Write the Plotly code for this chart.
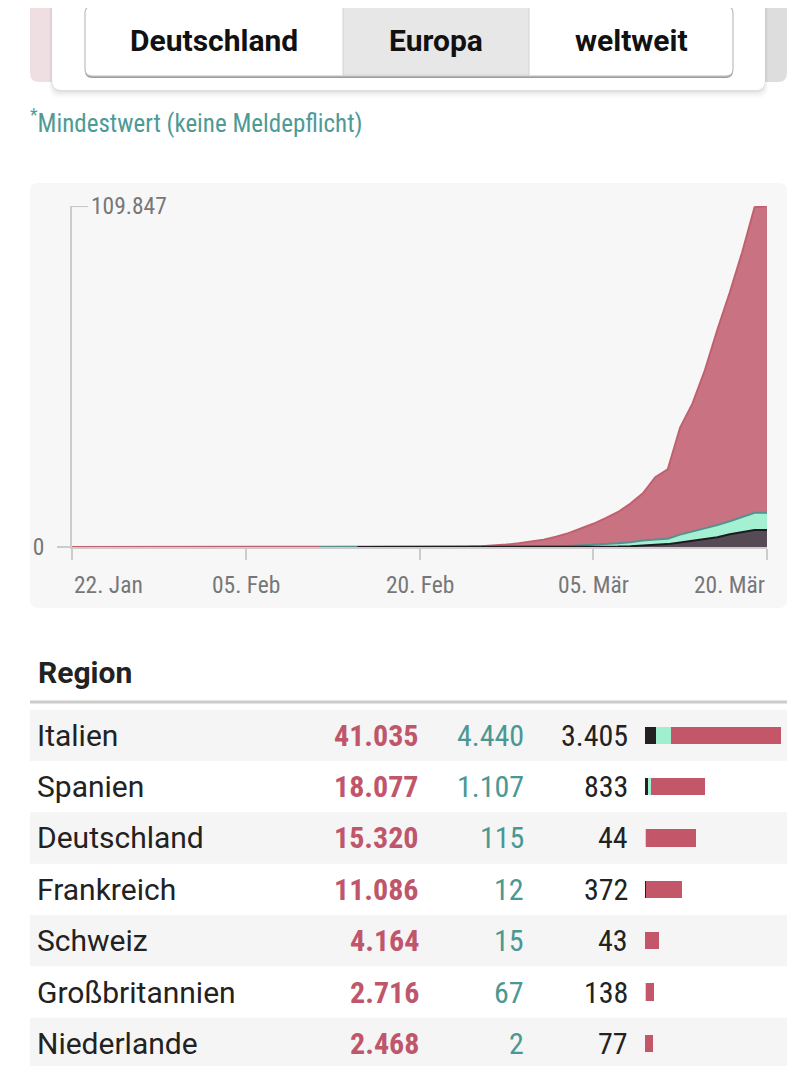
import plotly.graph_objects as go

# page body keeps its default 8px margin; the photo squeezes the page a little vertically
W, H = 784, 1072
OX, OY = 8, 8
S = 0.987

# ---- area chart data (Europa, cumulative, one value per day from 22. Jan) ----
days = list(range(57))
confirmed = [0, 0, 3, 3, 4, 5, 8, 10, 12, 14, 16, 20, 22, 25, 28, 30, 32, 35, 38, 40,
             42, 45, 46, 46, 46, 47, 47, 47, 48, 50, 60, 80, 160,
             300, 500, 800, 1200, 1700, 2400, 3300, 4500, 6000, 7500, 9300, 11300,
             14000, 17300, 22500, 25000, 38500, 46300, 57000, 70000, 82000, 95000,
             109500, 109847]
recovered = [None] * 20 + [2, 4, 4, 8, 10, 12, 14, 14, 16, 16, 18, 18, 20, 25, 45,
                           48, 50, 85, 150, 165, 280, 420, 530, 700, 1000, 1250, 1600,
                           1700, 1750, 2500, 3000, 3200, 3900, 4200, 5000, 5550, 5550]
deaths = [None] * 23 + [1, 1, 1, 1, 1, 1, 1, 2, 3, 3, 7, 11, 12, 17, 21, 29, 34, 52,
                        79, 107, 148, 197, 300, 500, 700, 950, 1500, 2000, 2700, 3200,
                        4100, 4800, 5500, 5500]
y_max = 109847
tick_days = [0, 14, 28, 42, 56]
tick_labels = ["22. Jan", "05. Feb", "20. Feb", "05. Mär", "20. Mär"]

# ---- table data ----
countries = ["Italien", "Spanien", "Deutschland", "Frankreich", "Schweiz",
             "Großbritannien", "Niederlande"]
t_confirmed = [41035, 18077, 15320, 11086, 4164, 2716, 2468]
t_recovered = [4440, 1107, 115, 12, 15, 67, 2]
t_deaths = [3405, 833, 44, 372, 43, 138, 77]

buttons = ["Deutschland", "Europa", "weltweit"]

RED, RED_LINE = "#c97382", "#c0606f"
MINT, MINT_LINE = "#a3f0d2", "#57908f"
DARK, DARK_LINE = "#564b55", "#1d1b20"
BAR_RED, BAR_MINT, BAR_DARK = "#c45669", "#a0f0cf", "#231f22"
TXT_RED, TXT_TEAL = "#c0566b", "#4b9793"
FONT = "Roboto, sans-serif"
COND = "Roboto Condensed, Liberation Sans Narrow, DejaVu Sans Condensed, Roboto, sans-serif"


def X(x):
    return (x - OX) / W


def Y(y):
    return 1 - (y / S - OY) / H


def rrect(x0, y0, x1, y1, r):
    return (f"M {X(x0 + r)},{Y(y0)} L {X(x1 - r)},{Y(y0)} Q {X(x1)},{Y(y0)} {X(x1)},{Y(y0 + r)} "
            f"L {X(x1)},{Y(y1 - r)} Q {X(x1)},{Y(y1)} {X(x1 - r)},{Y(y1)} "
            f"L {X(x0 + r)},{Y(y1)} Q {X(x0)},{Y(y1)} {X(x0)},{Y(y1 - r)} "
            f"L {X(x0)},{Y(y0 + r)} Q {X(x0)},{Y(y0)} {X(x0 + r)},{Y(y0)} Z")


def panel(x0, y0, x1, y1, r, fill, line=None):
    return dict(type="path", xref="paper", yref="paper", path=rrect(x0, y0, x1, y1, r),
                fillcolor=fill, line=line or dict(width=0), layer="below")


def de(n):
    return f"{n:,}".replace(",", ".")


fig = go.Figure()

# stacked look: total first, then recovered+deaths, then deaths on top
rec_top = [None if r is None else r + (d or 0) for r, d in zip(recovered, deaths)]
fig.add_trace(go.Scatter(x=days, y=confirmed, mode="lines", fill="tozeroy",
                         fillcolor=RED, line=dict(color=RED_LINE, width=2)))
fig.add_trace(go.Scatter(x=days, y=rec_top, mode="lines", fill="tozeroy",
                         fillcolor=MINT, line=dict(color=MINT_LINE, width=2)))
fig.add_trace(go.Scatter(x=days, y=deaths, mode="lines", fill="tozeroy",
                         fillcolor=DARK, line=dict(color=DARK_LINE, width=2)))

# table bars
active = [c - r - d for c, r, d in zip(t_confirmed, t_recovered, t_deaths)]
for vals, col in [(t_deaths, BAR_DARK), (t_recovered, BAR_MINT), (active, BAR_RED)]:
    fig.add_trace(go.Bar(x=vals, y=countries, orientation="h", marker=dict(color=col, line_width=0),
                         width=0.34, xaxis="x3", yaxis="y3"))

shapes = []
ann = []

# top selector widget
shapes.append(panel(30, -20, 62, 82, 9, "#f0dfe2"))
shapes.append(panel(755, -20, 787, 82, 9, "#dddddd"))
for i, a in enumerate([0.05, 0.035, 0.025, 0.015]):
    shapes.append(panel(52 - i, -20, 765 + i, 92 + 2 * i, 10, f"rgba(0,0,0,{a})"))
shapes.append(panel(52, -20, 765, 90, 10, "white"))
shapes.append(panel(85, 8, 733, 78, 7, "#9c9c9c"))
shapes.append(panel(85, 6, 733, 76, 7, "white", dict(color="#bdbdbd", width=1.2)))
shapes.append(dict(type="rect", xref="paper", yref="paper", x0=X(343), x1=X(529), y0=Y(75), y1=Y(7),
                   fillcolor="#e7e7e7", line=dict(color="#d2d2d2", width=1), layer="below"))
for txt, cx in zip(buttons, [214, 436, 631]):
    ann.append(dict(text=txt, x=X(cx), y=Y(40), xref="paper", yref="paper", showarrow=False,
                    xanchor="center", yanchor="middle", font=dict(family=FONT, size=30, color="#111", weight="bold")))

ann.append(dict(text="<sup>*</sup>Mindestwert (keine Meldepflicht)", x=X(28), y=Y(121), xref="paper", yref="paper",
                showarrow=False, xanchor="left", yanchor="middle", font=dict(family=COND, size=25, color="#4e9a95")))

# chart panel
shapes.append(panel(30, 183, 787, 608, 8, "#f7f7f7"))
shapes.append(dict(type="line", xref="paper", yref="y", x0=X(72), x1=X(88), y0=y_max, y1=y_max,
                   line=dict(color="#c8c8c8", width=2)))
ann.append(dict(text=de(y_max), x=X(89), y=y_max, xref="paper", yref="y", showarrow=False,
                xanchor="left", yanchor="middle", font=dict(family=COND, size=23.5, color="#777")))
anchors = ["left", "center", "center", "center", "right"]
for d, lab, anc in zip(tick_days, tick_labels, anchors):
    ann.append(dict(text=lab, x=d, y=Y(585), xref="x", yref="paper", showarrow=False,
                    xanchor=anc, yanchor="middle", font=dict(family=COND, size=23.5, color="#777")))

# table
ROW = 51.36 / S
TABLE_TOP, PAGE_BOTTOM = 709.5 / S, OY + H
ann.append(dict(text="<b>Region</b>", x=X(36), y=Y(672), xref="paper", yref="paper", showarrow=False,
                xanchor="left", yanchor="middle", font=dict(family=FONT, size=30, color="#222")))
shapes.append(dict(type="line", xref="paper", yref="paper", x0=X(30), x1=X(787), y0=Y(702), y1=Y(702),
                   line=dict(color="#cccccc", width=3)))
for i, c in enumerate(countries):
    if i % 2 == 0:
        shapes.append(dict(type="rect", xref="paper", yref="y3", x0=X(30), x1=X(787), y0=i - 0.5, y1=i + 0.5,
                           fillcolor="#f5f5f5", line_width=0, layer="below"))
    ann.append(dict(text=c, x=X(35), y=c, xref="paper", yref="y3", showarrow=False, xanchor="left",
                    yanchor="middle", font=dict(family=FONT, size=30, color="#222")))
    ann.append(dict(text=de(t_confirmed[i]), x=X(421), y=c, xref="paper", yref="y3", showarrow=False,
                    xanchor="right", yanchor="middle", font=dict(family=COND, size=30, color=TXT_RED, weight="bold")))
    ann.append(dict(text=de(t_recovered[i]), x=X(526), y=c, xref="paper", yref="y3", showarrow=False,
                    xanchor="right", yanchor="middle", font=dict(family=COND, size=30, color=TXT_TEAL)))
    ann.append(dict(text=de(t_deaths[i]), x=X(630), y=c, xref="paper", yref="y3", showarrow=False,
                    xanchor="right", yanchor="middle", font=dict(family=COND, size=30, color="#222")))

fig.update_layout(
    width=W, height=H, margin=dict(l=0, r=0, t=0, b=0),
    paper_bgcolor="white", plot_bgcolor="rgba(0,0,0,0)",
    showlegend=False, barmode="stack", hovermode=False,
    shapes=shapes, annotations=ann,
    xaxis=dict(domain=[X(72), X(767)], range=[0, 56], tickvals=tick_days, showticklabels=False,
               ticks="outside", ticklen=11, tickwidth=2, tickcolor="#cccccc",
               showline=True, linecolor="#cccccc", linewidth=2, showgrid=False, zeroline=False),
    xaxis2=dict(overlaying="x", matches="x", anchor="y", tickvals=tick_days, showticklabels=False,
                ticks="inside", ticklen=12, tickwidth=2, tickcolor="#cccccc",
                showline=False, showgrid=False, zeroline=False),
    yaxis=dict(domain=[Y(547), Y(206)], range=[0, y_max], tickvals=[0], ticktext=["0"],
               ticks="outside", ticklen=13, tickwidth=2, tickcolor="#cccccc", ticklabelstandoff=8,
               tickfont=dict(family=COND, size=23.5, color="#777"),
               showline=True, linecolor="#cccccc", linewidth=2, showgrid=False, zeroline=False),
    xaxis3=dict(domain=[X(645), X(781)], range=[0, max(t_confirmed)], anchor="y3", visible=False),
    yaxis3=dict(domain=[0, Y(709.5)], anchor="x3", visible=False,
                range=[-0.5 + (PAGE_BOTTOM - TABLE_TOP) / ROW, -0.5],
                categoryorder="array", categoryarray=countries),
)

fig.write_html("out.html")
